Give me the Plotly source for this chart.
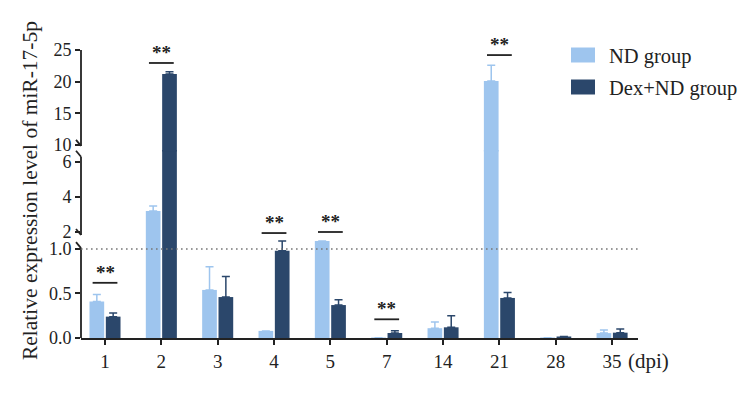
import plotly.graph_objects as go

# ---------------- data ----------------
days = ["1", "2", "3", "4", "5", "7", "14", "21", "28", "35"]
nd_mean = [0.41, 3.2, 0.54, 0.08, 1.09, 0.003, 0.11, 20.1, 0.003, 0.055]
nd_err = [0.08, 0.29, 0.26, 0.0, 0.0, 0.0, 0.07, 2.5, 0.0, 0.035]
dex_mean = [0.24, 21.2, 0.46, 0.98, 0.37, 0.056, 0.12, 0.45, 0.012, 0.06]
dex_err = [0.04, 0.35, 0.23, 0.11, 0.06, 0.025, 0.13, 0.06, 0.005, 0.04]
sig_days = ["1", "2", "4", "5", "7", "21"]
sig_levels = [0.62, 22.95, 1.94, 2.0, 0.21, 24.2]

bottom_ticks = [0.0, 0.5, 1.0]
middle_ticks = [2, 4, 6]
top_ticks = [10, 15, 20, 25]

ND_COLOR = "#9ec5ee"
DEX_COLOR = "#2b476b"
AX_COLOR = "#222222"
FONT = "Liberation Serif"

W, H = 752, 393
ML, MR, MT, MB = 81, 114, 50, 55
PW, PH = W - ML - MR, H - MT - MB

# ---------------- broken axis segments ----------------
seg_ranges = [(0, 1.101), (1.543, 6.6), (8.97, 25)]
seg_domains = [(0, 0.3403), (0.3403, 0.6476), (0.6476, 1.0)]
yaxis_ids = ["y", "y2", "y3"]


def to_paper(v):
    for (r0, r1), (d0, d1) in zip(seg_ranges, seg_domains):
        if r0 <= v <= r1:
            return d0 + (v - r0) / (r1 - r0) * (d1 - d0)
    return None


# drawn segments: lower segments extended upward by ~1.5 px so bars have no seams
ext = 1.5 / PH
draw_ranges, draw_domains = [], []
for k, ((r0, r1), (d0, d1)) in enumerate(zip(seg_ranges, seg_domains)):
    if k < 2:
        r1n = r1 + (r1 - r0) / (d1 - d0) * ext
        d1n = d1 + ext
    else:
        r1n, d1n = r1, d1
    draw_ranges.append((r0, r1n))
    draw_domains.append((d0, d1n))

fig = go.Figure()
for k, yid in enumerate(yaxis_ids):
    fig.add_trace(go.Bar(
        x=days, y=nd_mean, name="ND group", yaxis=yid, xaxis="x",
        marker=dict(color=ND_COLOR, line=dict(width=0)),
        error_y=dict(type="data", array=nd_err, arrayminus=[0] * len(days), symmetric=False,
                     color=ND_COLOR, thickness=1.5, width=4),
        showlegend=False, hoverinfo="skip"))
    fig.add_trace(go.Bar(
        x=days, y=dex_mean, name="Dex+ND group", yaxis=yid, xaxis="x",
        marker=dict(color=DEX_COLOR, line=dict(width=0)),
        error_y=dict(type="data", array=dex_err, arrayminus=[0] * len(days), symmetric=False,
                     color=DEX_COLOR, thickness=1.5, width=4),
        showlegend=False, hoverinfo="skip"))

tick_sets = [bottom_ticks, middle_ticks, top_ticks]
tick_texts = [["0.0", "0.5", "1.0"], [str(t) for t in middle_ticks], [str(t) for t in top_ticks]]
yaxis_common = dict(showline=False, showgrid=False, zeroline=False, ticks="outside",
                    ticklen=5, tickwidth=1.8, tickcolor=AX_COLOR,
                    tickfont=dict(family=FONT, size=18, color=AX_COLOR), fixedrange=True)
layout_axes = {}
for k, name in enumerate(["yaxis", "yaxis2", "yaxis3"]):
    ax = dict(yaxis_common, range=list(draw_ranges[k]), domain=list(draw_domains[k]),
              tickmode="array", tickvals=tick_sets[k], ticktext=tick_texts[k])
    if k > 0:
        ax["anchor"] = "x"
    layout_axes[name] = ax

shapes = []
# y-axis line segments with break strokes
axis_spans = [(0, 1.01), (1.83, 6.3), (9.85, 25)]
dx = 5 / PW
dy = 6 / PH
for k, (a, b) in enumerate(axis_spans):
    y0, y1 = to_paper(a), to_paper(b)
    shapes.append(dict(type="line", xref="paper", yref="paper", x0=0, x1=0, y0=y0, y1=y1,
                       line=dict(color=AX_COLOR, width=1.8)))
    if k > 0:  # lower end stroke
        shapes.append(dict(type="line", xref="paper", yref="paper", x0=-dx, x1=0,
                           y0=y0 + dy, y1=y0, line=dict(color=AX_COLOR, width=1.8)))
    if k < 2:  # upper end stroke
        shapes.append(dict(type="line", xref="paper", yref="paper", x0=-dx, x1=0,
                           y0=y1 + dy, y1=y1, line=dict(color=AX_COLOR, width=1.8)))

# dotted reference line at 1.0
shapes.append(dict(type="line", xref="paper", yref="paper", x0=0, x1=1,
                   y0=to_paper(1.0), y1=to_paper(1.0),
                   line=dict(color="#777777", width=1.6, dash="1.6px,3.4px")))

annotations = []
# significance markers
for d, lv in zip(sig_days, sig_levels):
    i = days.index(d)
    yp = to_paper(lv)
    shapes.append(dict(type="line", xref="x", yref="paper", x0=i - 0.22, x1=i + 0.22,
                       y0=yp, y1=yp, line=dict(color=AX_COLOR, width=1.8)))
    annotations.append(dict(x=i, xref="x", y=yp, yref="paper", text="<b>**</b>",
                            showarrow=False, yanchor="bottom", yshift=-2,
                            font=dict(family=FONT, size=19, color=AX_COLOR)))

# custom legend
leg_items = [("ND group", ND_COLOR), ("Dex+ND group", DEX_COLOR)]
leg_x0 = (571 - ML) / PW
leg_x1 = (595 - ML) / PW
leg_tx = (607 - ML) / PW
for j, (lab, col) in enumerate(leg_items):
    cy = 55 + j * 32
    shapes.append(dict(type="rect", xref="paper", yref="paper", x0=leg_x0, x1=leg_x1,
                       y0=(H - MB - (cy + 7.5)) / PH, y1=(H - MB - (cy - 7.5)) / PH,
                       fillcolor=col, line=dict(width=0)))
    annotations.append(dict(x=leg_tx, xref="paper", y=(H - MB - (cy + 1)) / PH, yref="paper",
                            text=lab, showarrow=False, xanchor="left", yanchor="middle",
                            font=dict(family=FONT, size=20.5, color=AX_COLOR)))

# axis titles
annotations.append(dict(x=(30 - ML) / PW, xref="paper", y=0.51, yref="paper",
                        text="Relative expression level of miR-17-5p", textangle=-90,
                        showarrow=False, xanchor="center", yanchor="middle",
                        font=dict(family=FONT, size=21.5, color=AX_COLOR)))
annotations.append(dict(x=(626 - ML) / PW, xref="paper", y=-(361 - (H - MB)) / PH, yref="paper",
                        text="(dpi)", showarrow=False, xanchor="left", yanchor="middle",
                        font=dict(family=FONT, size=21, color=AX_COLOR)))

fig.update_layout(
    width=W, height=H,
    margin=dict(l=ML, r=MR, t=MT, b=MB, pad=0),
    paper_bgcolor="white", plot_bgcolor="white",
    barmode="group", bargap=0.42, bargroupgap=0.1,
    showlegend=False,
    xaxis=dict(type="category", range=[-0.426, 9.46], showline=True, linewidth=1.8,
               linecolor=AX_COLOR, ticks="outside", ticklen=5, tickwidth=1.8,
               tickcolor=AX_COLOR, showgrid=False, zeroline=False, anchor="y",
               tickfont=dict(family=FONT, size=19, color=AX_COLOR), fixedrange=True),
    shapes=shapes, annotations=annotations,
    **layout_axes,
)

fig.write_html("out.html")
